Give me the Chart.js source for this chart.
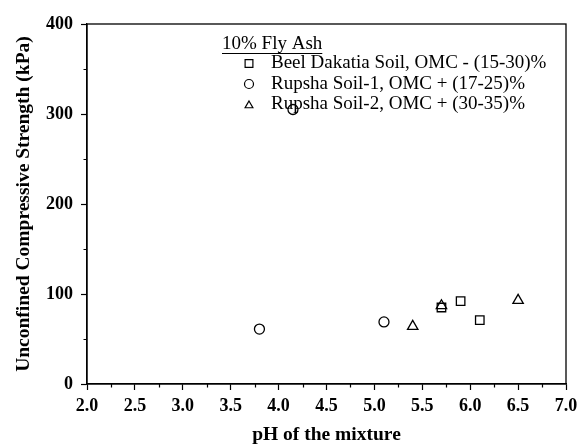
<!DOCTYPE html>
<html>
<head>
    <title>UCS vs pH</title>
    <script src="https://cdn.jsdelivr.net/npm/chart.js"></script>
    <style>
        html, body { margin: 0; padding: 0; background: #fff; }
        #wrap { width: 579px; height: 445px; position: relative; }
    </style>
</head>
<body>
    <div id="wrap"><canvas id="ucsPlot"></canvas></div>

    <script>
        // values
        const legendTitle = '10% Fly Ash';
        const seriesNames = [
            'Beel Dakatia Soil, OMC - (15-30)%',
            'Rupsha Soil-1, OMC + (17-25)%',
            'Rupsha Soil-2, OMC + (30-35)%'
        ];
        const beelPH = [5.7, 5.9, 6.1];
        const beelUCS = [85, 92, 71];
        const rupsha1PH = [3.8, 4.15, 5.1];
        const rupsha1UCS = [61, 305, 69];
        const rupsha2PH = [5.4, 5.7, 6.5];
        const rupsha2UCS = [64, 87, 93];

        const serif = "'Liberation Serif', 'Times New Roman', serif";

        function pts(xs, ys) {
            return xs.map((x, i) => ({ x: x, y: ys[i] }));
        }

        // box round the plot area + short minor ticks
        const frame = {
            id: 'frame',
            afterDatasetsDraw(chart) {
                const a = chart.chartArea;
                const ctx = chart.ctx;
                const xs = chart.scales.x, ys = chart.scales.y;
                ctx.save();
                ctx.strokeStyle = '#000';
                ctx.lineWidth = 1.3;
                ctx.strokeRect(a.left, a.top, a.right - a.left, a.bottom - a.top);
                ctx.lineWidth = 1.2;
                ctx.beginPath();
                for (let v = 2.25; v < 7; v += 0.5) {
                    const px = Math.round(xs.getPixelForValue(v)) + 0.5;
                    ctx.moveTo(px, a.bottom);
                    ctx.lineTo(px, a.bottom + 3.5);
                }
                for (let v = 50; v < 400; v += 100) {
                    const py = Math.round(ys.getPixelForValue(v)) + 0.5;
                    ctx.moveTo(a.left, py);
                    ctx.lineTo(a.left - 3.5, py);
                }
                ctx.stroke();
                ctx.restore();
            }
        };

        // legend box inside the plot, title underlined
        const innerLegend = {
            id: 'innerLegend',
            afterDraw(chart) {
                const ctx = chart.ctx;
                ctx.save();
                ctx.fillStyle = '#000';
                ctx.textBaseline = 'alphabetic';
                ctx.font = '19px ' + serif;
                ctx.fillText(legendTitle, 222, 49);
                const w = ctx.measureText(legendTitle).width;
                ctx.strokeStyle = '#000';
                ctx.lineWidth = 1;
                ctx.beginPath();
                ctx.moveTo(222, 53.5);
                ctx.lineTo(222 + w, 53.5);
                ctx.stroke();

                chart.data.datasets.forEach((ds, i) => {
                    const base = 68 + i * 20.5;
                    const cy = base - 4.5;
                    ctx.lineWidth = 1.2;
                    ctx.strokeStyle = '#000';
                    ctx.fillStyle = 'rgba(0,0,0,0)';
                    Chart.helpers.drawPoint(ctx, {
                        pointStyle: ds.pointStyle,
                        radius: ds.pointStyle === 'rect' ? 5.5 : 4.5,
                        rotation: 0,
                        borderWidth: 1.2
                    }, 249, ds.pointStyle === 'triangle' ? cy + 1 : cy);
                    ctx.fillStyle = '#000';
                    ctx.fillText(ds.label, 271, base);
                });
                ctx.restore();
            }
        };

        const ctx = document.getElementById('ucsPlot').getContext('2d');

        new Chart(ctx, {
            type: 'scatter',
            data: {
                datasets: [{
                    label: seriesNames[0],
                    data: pts(beelPH, beelUCS),
                    pointStyle: 'rect',
                    pointRadius: 6,
                    borderColor: '#000',
                    backgroundColor: 'rgba(0,0,0,0)',
                    borderWidth: 1.3
                },
                {
                    label: seriesNames[1],
                    data: pts(rupsha1PH, rupsha1UCS),
                    pointStyle: 'circle',
                    pointRadius: 5,
                    borderColor: '#000',
                    backgroundColor: 'rgba(0,0,0,0)',
                    borderWidth: 1.3
                },
                {
                    label: seriesNames[2],
                    data: pts(rupsha2PH, rupsha2UCS),
                    pointStyle: 'triangle',
                    pointRadius: 6,
                    borderColor: '#000',
                    backgroundColor: 'rgba(0,0,0,0)',
                    borderWidth: 1.3
                }]
            },
            options: {
                responsive: true,
                maintainAspectRatio: false,
                animation: false,
                layout: {
                    padding: { top: 24, right: 13, left: 0, bottom: 0 }
                },
                scales: {
                    x: {
                        type: 'linear',
                        min: 2,
                        max: 7,
                        afterFit(scale) {
                            scale.height = 61;
                            scale.paddingLeft = 0;
                            scale.paddingRight = 0;
                        },
                        border: { display: true, color: '#000', width: 1.3 },
                        grid: {
                            drawOnChartArea: false,
                            drawTicks: true,
                            tickLength: 6,
                            tickColor: '#000',
                            tickWidth: 1.2
                        },
                        ticks: {
                            stepSize: 0.5,
                            autoSkip: false,
                            maxRotation: 0,
                            padding: 6,
                            color: '#000',
                            font: { family: serif, size: 18, weight: 'bold' },
                            callback: v => v.toFixed(1)
                        },
                        title: {
                            display: true,
                            text: 'pH of the mixture',
                            color: '#000',
                            font: { family: serif, size: 19.5, weight: 'bold' },
                            padding: { top: 0, bottom: -2 }
                        }
                    },
                    y: {
                        type: 'linear',
                        min: 0,
                        max: 400,
                        afterFit(scale) {
                            scale.width = 87;
                            scale.paddingTop = 0;
                            scale.paddingBottom = 0;
                        },
                        border: { display: true, color: '#000', width: 1.3 },
                        grid: {
                            drawOnChartArea: false,
                            drawTicks: true,
                            tickLength: 6,
                            tickColor: '#000',
                            tickWidth: 1.2
                        },
                        ticks: {
                            stepSize: 100,
                            autoSkip: false,
                            padding: 8,
                            color: '#000',
                            font: { family: serif, size: 18, weight: 'bold' }
                        },
                        title: {
                            display: true,
                            text: 'Unconfined Compressive Strength (kPa)',
                            color: '#000',
                            font: { family: serif, size: 19.5, weight: 'bold' },
                            padding: { top: 12, bottom: 0 }
                        }
                    }
                },
                plugins: {
                    legend: { display: false },
                    tooltip: { enabled: false }
                }
            },
            plugins: [frame, innerLegend]
        });
    </script>
</body>
</html>
